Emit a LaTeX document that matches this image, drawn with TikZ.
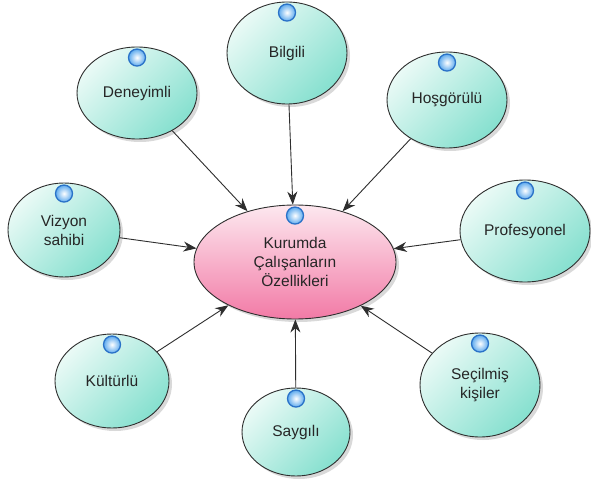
\documentclass[tikz,border=0pt]{standalone}
\usepackage{fontspec}
\setmainfont{Liberation Sans}
\usetikzlibrary{arrows.meta,shadows,shapes.geometric}

\definecolor{edge}{HTML}{2E2E2E}
\definecolor{aqualight}{HTML}{EAFAF6}
\definecolor{aquadark}{HTML}{86E0CF}
\definecolor{pinklight}{HTML}{FDE8EF}
\definecolor{pinkdark}{HTML}{F27AA6}
\definecolor{orb}{HTML}{2A72C8}
\definecolor{orbfill}{HTML}{5DAAEE}

\tikzset{
  trait/.style={ellipse, draw=edge, line width=0.9pt, inner sep=0pt,
    top color=aqualight, bottom color=aquadark, shading angle=45,
    drop shadow={shadow xshift=3pt, shadow yshift=-3pt, opacity=0.15, fill=black},
    align=center, font=\fontsize{15.5}{19}\selectfont, text=black!85},
  hub/.style={trait, top color=pinklight, bottom color=pinkdark},
  orbdot/.style={circle, minimum size=17pt, inner sep=0pt, draw=orb,
    line width=1.3pt, inner color=white, outer color=orbfill},
  link/.style={draw=edge, line width=0.9pt, -{Stealth[length=13pt,width=10pt]}}
}

\newcommand{\orbon}[1]{\node[orbdot] (#1-orb) at ([yshift=-11pt]#1.north) {};}

\begin{document}
\begin{tikzpicture}[x=1pt,y=-1pt]
  \useasboundingbox (0,0) rectangle (591,494);
  \fill[white] (0,0) rectangle (591,494);

  % central topic
  \node[hub, minimum width=202pt, minimum height=114pt] (hub) at (295,262)
    {Kurumda\\Çalışanların\\Özellikleri};

  % surrounding traits
  \node[trait, minimum width=120pt, minimum height=102pt] (bilgili) at (287,53) {Bilgili};
  \node[trait, minimum width=120pt, minimum height=92pt] (deneyimli) at (137,93) {Deneyimli};
  \node[trait, minimum width=120pt, minimum height=96pt] (hosgorulu) at (447,100) {Hoşgörülü};
  \node[trait, minimum width=112pt, minimum height=94pt] (vizyon) at (64,230) {Vizyon\\sahibi};
  \node[trait, minimum width=130pt, minimum height=102pt] (profesyonel) at (525,231) {Profesyonel};
  \node[trait, minimum width=114pt, minimum height=94pt] (kulturlu) at (112,381) {Kültürlü};
  \node[trait, minimum width=108pt, minimum height=88pt] (saygili) at (296,432) {Saygılı};
  \node[trait, minimum width=120pt, minimum height=104pt] (secilmis) at (480,385) {Seçilmiş\\kişiler};

  % connectors into the hub
  \foreach \n in {bilgili,deneyimli,hosgorulu,vizyon,profesyonel,kulturlu,saygili,secilmis}
    {\draw[link] (\n) -- (hub);}

  % status orbs
  \foreach \n in {hub,bilgili,deneyimli,hosgorulu,vizyon,profesyonel,kulturlu,saygili,secilmis}
    {\orbon{\n}}
\end{tikzpicture}
\end{document}
